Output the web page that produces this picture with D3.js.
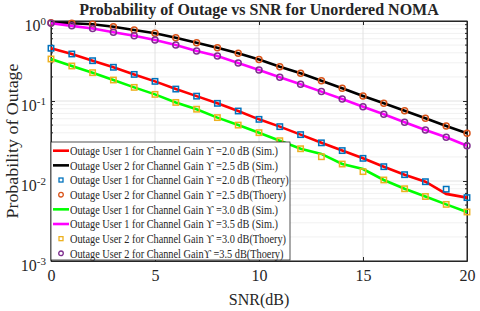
<!DOCTYPE html>
<html>
<head>
<meta charset="utf-8">
<script src="https://cdn.jsdelivr.net/npm/d3@7"></script>
<style>
  body { margin: 0; background: #fff; }
  svg { display: block; }
  text { font-family: "Liberation Serif", "Times New Roman", serif; fill: #262626; }
</style>
</head>
<body>
<svg id="chart" width="480" height="311"></svg>
<script>
// SNR in dB
const snr = [0, 1, 2, 3, 4, 5, 6, 7, 8, 9, 10, 11, 12, 13, 14, 15, 16, 17, 18, 19, 20];

// outage probabilities
const user1Gain20Sim = [0.456, 0.387, 0.319, 0.264, 0.215, 0.176, 0.141, 0.115, 0.0935, 0.075, 0.059, 0.0478, 0.038, 0.030, 0.024, 0.0192, 0.0151, 0.012, 0.0098, 0.0069, 0.0062];
const user2Gain25Sim = [0.952, 0.936, 0.910, 0.849, 0.772, 0.702, 0.618, 0.536, 0.464, 0.395, 0.330, 0.268, 0.222, 0.179, 0.144, 0.1155, 0.0936, 0.0757, 0.0608, 0.0487, 0.0395];
const user1Gain20Theory = [0.456, 0.387, 0.319, 0.264, 0.215, 0.176, 0.141, 0.115, 0.0935, 0.075, 0.059, 0.0478, 0.038, 0.030, 0.024, 0.0192, 0.0151, 0.012, 0.0098, 0.0079, 0.0062];
const user2Gain25Theory = [0.952, 0.936, 0.910, 0.849, 0.772, 0.702, 0.618, 0.536, 0.464, 0.395, 0.330, 0.268, 0.222, 0.179, 0.144, 0.1155, 0.0936, 0.0757, 0.0608, 0.0487, 0.0395];
const user1Gain30Sim = [0.335, 0.274, 0.226, 0.183, 0.148, 0.121, 0.096, 0.079, 0.062, 0.050, 0.0402, 0.0319, 0.0253, 0.0218, 0.0163, 0.0141, 0.0103, 0.0080, 0.0064, 0.0051, 0.0041];
const user1Gain35Sim = [0.936, 0.870, 0.806, 0.722, 0.655, 0.579, 0.501, 0.422, 0.365, 0.299, 0.244, 0.198, 0.162, 0.131, 0.106, 0.0849, 0.0682, 0.0542, 0.0434, 0.0352, 0.0276];
const user2Gain30Theory = [0.335, 0.274, 0.226, 0.183, 0.148, 0.121, 0.096, 0.079, 0.062, 0.050, 0.0402, 0.0319, 0.0253, 0.0201, 0.0163, 0.0131, 0.0103, 0.0080, 0.0064, 0.0051, 0.0041];
const user2Gain35Theory = [0.936, 0.870, 0.806, 0.722, 0.655, 0.579, 0.501, 0.422, 0.365, 0.299, 0.244, 0.198, 0.162, 0.131, 0.106, 0.0849, 0.0682, 0.0542, 0.0434, 0.0352, 0.0276];

const legendLabels = [
  "Outage User 1 for Channel Gain \u03d2 =2.0 dB (Sim.)",
  "Outage User 2 for Channel Gain \u03d2 =2.5 dB (Sim.)",
  "Outage User 1 for Channel Gain \u03d2 =2.0 dB (Theory)",
  "Outage User 2 for Channel Gain \u03d2 =2.5 dB(Thoery)",
  "Outage User 1 for Channel Gain \u03d2 =3.0 dB (Sim.)",
  "Outage User 1 for Channel Gain \u03d2 =3.5 dB (Sim.)",
  "Outage User 2 for Channel Gain \u03d2 =3.0 dB(Thoery)",
  "Outage User 2 for  Channel Gain\u03d2 =3.5 dB(Thoery)"
];

const xTicks = [0, 5, 10, 15, 20];
const yTicks = [1e-3, 1e-2, 1e-1, 1];
const yExponents = ["-3", "-2", "-1", "0"];

// series in legend order: kind, values, colour
const series = [
  { kind: "line", values: user1Gain20Sim, color: "#ff0000" },
  { kind: "line", values: user2Gain25Sim, color: "#000000" },
  { kind: "square", values: user1Gain20Theory, color: "#0072bd" },
  { kind: "circle", values: user2Gain25Theory, color: "#d95319" },
  { kind: "line", values: user1Gain30Sim, color: "#00ff00" },
  { kind: "line", values: user1Gain35Sim, color: "#ff00ff" },
  { kind: "square", values: user2Gain30Theory, color: "#edb120" },
  { kind: "circle", values: user2Gain35Theory, color: "#7e2f8e" }
];
series.forEach((s, i) => s.label = legendLabels[i]);

const svg = d3.select("#chart");
const plotLeft = 51, plotRight = 467, plotTop = 21, plotBottom = 261;

const x = d3.scaleLinear().domain([0, 20]).range([plotLeft, plotRight]);
const y = d3.scaleLog().domain([1e-3, 1]).range([plotBottom, plotTop]);

// grid
const minorY = [];
[1e-3, 1e-2, 1e-1].forEach(d => { for (let k = 2; k < 10; k++) minorY.push(d * k); });

svg.append("g").selectAll("line").data(minorY).enter().append("line")
  .attr("x1", plotLeft).attr("x2", plotRight)
  .attr("y1", d => y(d)).attr("y2", d => y(d))
  .attr("stroke", "#f1f1f1").attr("stroke-width", 1);

svg.append("g").selectAll("line").data(yTicks).enter().append("line")
  .attr("x1", plotLeft).attr("x2", plotRight)
  .attr("y1", d => y(d)).attr("y2", d => y(d))
  .attr("stroke", "#e2e2e2").attr("stroke-width", 1);

svg.append("g").selectAll("line").data(xTicks).enter().append("line")
  .attr("x1", d => x(d)).attr("x2", d => x(d))
  .attr("y1", plotTop).attr("y2", plotBottom)
  .attr("stroke", "#e2e2e2").attr("stroke-width", 1);

// axes (ticks point inward like MATLAB)
const xAxis = svg.append("g").attr("transform", `translate(0,${plotBottom})`)
  .call(d3.axisBottom(x).tickValues(xTicks).tickSizeInner(-4).tickSizeOuter(0).tickPadding(9));
xAxis.selectAll("text").style("font-size", "16px").attr("fill", "#262626");

svg.append("g").attr("transform", `translate(0,${plotTop})`)
  .call(d3.axisTop(x).tickValues(xTicks).tickSizeInner(-4).tickSizeOuter(0).tickFormat(""));

const yAxis = svg.append("g").attr("transform", `translate(${plotLeft},0)`)
  .call(d3.axisLeft(y).tickValues(yTicks).tickSizeInner(-4).tickSizeOuter(0).tickFormat(""));
yAxis.selectAll(".tick").append("text")
  .attr("x", -5).attr("dy", "0.62em").attr("text-anchor", "end")
  .style("font-size", "16px")
  .each(function (d, i) {
    const t = d3.select(this);
    t.append("tspan").text("10");
    t.append("tspan").attr("dy", "-0.6em").style("font-size", "11px").text(yExponents[i]);
  });

svg.append("g").attr("transform", `translate(${plotRight},0)`)
  .call(d3.axisRight(y).tickValues(yTicks).tickSizeInner(-4).tickSizeOuter(0).tickFormat(""));

// minor ticks on both vertical sides
svg.append("g").selectAll("line").data(minorY).enter().append("line")
  .attr("x1", plotLeft).attr("x2", plotLeft + 2)
  .attr("y1", d => y(d)).attr("y2", d => y(d)).attr("stroke", "#262626");
svg.append("g").selectAll("line").data(minorY).enter().append("line")
  .attr("x1", plotRight - 2).attr("x2", plotRight)
  .attr("y1", d => y(d)).attr("y2", d => y(d)).attr("stroke", "#262626");

svg.selectAll(".domain, .tick line").attr("stroke", "#262626");
svg.append("rect").attr("x", plotLeft).attr("y", plotTop)
  .attr("width", plotRight - plotLeft).attr("height", plotBottom - plotTop)
  .attr("fill", "none").attr("stroke", "#262626").attr("stroke-width", 1);

// series
const line = d3.line().x((d, i) => x(snr[i])).y(d => y(d));

series.forEach(s => {
  if (s.kind === "line") {
    svg.append("path").datum(s.values)
      .attr("d", line).attr("fill", "none")
      .attr("stroke", s.color).attr("stroke-width", 2.6);
  } else if (s.kind === "square") {
    svg.append("g").selectAll("rect").data(s.values).enter().append("rect")
      .attr("x", (d, i) => x(snr[i]) - 2.7).attr("y", d => y(d) - 2.7)
      .attr("width", 5.4).attr("height", 5.4)
      .attr("fill", "none").attr("stroke", s.color).attr("stroke-width", 1.5);
  } else {
    svg.append("g").selectAll("circle").data(s.values).enter().append("circle")
      .attr("cx", (d, i) => x(snr[i])).attr("cy", d => y(d)).attr("r", 3)
      .attr("fill", "none").attr("stroke", s.color).attr("stroke-width", 1.5);
  }
});

// legend
const legend = svg.append("g").attr("transform", `translate(${plotLeft},142)`);
legend.append("rect").attr("width", 239).attr("height", 118)
  .attr("fill", "#fff").attr("stroke", "#262626").attr("stroke-width", 0.8);

const entry = legend.selectAll("g.entry").data(series).enter().append("g")
  .attr("class", "entry")
  .attr("transform", (d, i) => `translate(0,${8.7 + i * 14.66})`);

entry.each(function (d) {
  const g = d3.select(this);
  if (d.kind === "line") {
    g.append("line").attr("x1", 2).attr("x2", 18).attr("y1", 0).attr("y2", 0)
      .attr("stroke", d.color).attr("stroke-width", 2.6);
  } else if (d.kind === "square") {
    g.append("rect").attr("x", 8).attr("y", -2).attr("width", 4).attr("height", 4)
      .attr("fill", "none").attr("stroke", d.color).attr("stroke-width", 1.3);
  } else {
    g.append("circle").attr("cx", 10).attr("cy", 0).attr("r", 2.3)
      .attr("fill", "none").attr("stroke", d.color).attr("stroke-width", 1.3);
  }
});

const legendText = entry.append("text")
  .attr("x", 19).attr("dy", "0.35em")
  .style("font-size", "12.5px")
  .text(d => d.label);
// squeeze so the first (Sim.) row is as wide as in the figure
const squeeze = 208 / legendText.node().getComputedTextLength();
legendText.each(function () {
  const w = this.getComputedTextLength();
  d3.select(this).attr("textLength", w * squeeze).attr("lengthAdjust", "spacingAndGlyphs");
});

// titles
svg.append("text").attr("x", (plotLeft + plotRight) / 2).attr("y", 15)
  .attr("text-anchor", "middle").style("font-size", "16px").style("font-weight", "bold")
  .attr("fill", "#000").text("Probability of Outage vs SNR for Unordered NOMA");

svg.append("text").attr("x", (plotLeft + plotRight) / 2).attr("y", 305)
  .attr("text-anchor", "middle").style("font-size", "16px")
  .text("SNR(dB)");

svg.append("text")
  .attr("transform", "translate(18,141) rotate(-90)")
  .attr("text-anchor", "middle").style("font-size", "17.5px")
  .attr("textLength", 155).attr("lengthAdjust", "spacingAndGlyphs")
  .text("Probability of Outage");
</script>
</body>
</html>
